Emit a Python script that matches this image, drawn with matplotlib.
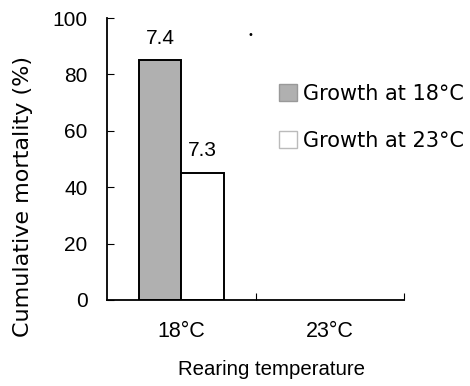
import matplotlib
matplotlib.use("Agg")
import matplotlib.pyplot as plt
from matplotlib.patches import Patch

plt.rcParams['font.family'] = ['DejaVu Sans']

categories = ["18°C", "23°C"]
growth_labels = ["Growth at 18°C", "Growth at 23°C"]
mortality_18 = [85, 0]      # grown at 18C
mortality_23 = [45, 0]      # grown at 23C
bar_notes_18 = ["7.4", None]
bar_notes_23 = ["7.3", None]

num_font = "Liberation Sans"

fig = plt.figure(figsize=(4.7, 3.86), dpi=100)
ax = fig.add_axes([0.228, 0.223, 0.632, 0.730])

w = 0.286
centers = [0.5, 1.5]
for i, c in enumerate(centers):
    if mortality_18[i] > 0:
        ax.bar(c - w / 2, mortality_18[i], width=w, color="#b0b0b0", edgecolor="black", lw=1.4)
        ax.text(c - w / 2, mortality_18[i] + 4.5, bar_notes_18[i], ha="center", va="bottom",
                fontsize=15, family=num_font)
    if mortality_23[i] > 0:
        ax.bar(c + w / 2, mortality_23[i], width=w, color="white", edgecolor="black", lw=1.4)
        ax.text(c + w / 2, mortality_23[i] + 4.5, bar_notes_23[i], ha="center", va="bottom",
                fontsize=15, family=num_font)

ax.set_xlim(0, 2)
ax.set_ylim(0, 100)
ax.set_yticks([0, 20, 40, 60, 80, 100])
ax.tick_params(axis="y", direction="in", length=5, labelsize=15, pad=14)
for t in ax.get_yticklabels():
    t.set_family(num_font)
ax.set_xticks([1, 2])
ax.set_xticklabels([])
ax.tick_params(axis="x", direction="in", length=5)
for c, lab in zip(centers, categories):
    ax.text(c, -7.5, lab, ha="center", va="top", fontsize=15.5, family=num_font)
for s in ("top", "right"):
    ax.spines[s].set_visible(False)
ax.spines["left"].set_linewidth(1.3)
ax.spines["bottom"].set_linewidth(1.3)

fig.text(0.05, 0.49, "Cumulative mortality (%)", rotation=90, ha="center", va="center",
         fontsize=16)
fig.text(0.578, 0.042, "Rearing temperature", ha="center", va="center", fontsize=14.7,
         family=num_font)

handles = [Patch(facecolor="#b0b0b0", edgecolor="#999999"),
           Patch(facecolor="white", edgecolor="#bbbbbb")]
ax.legend(handles, growth_labels, loc="upper left", bbox_to_anchor=(0.55, 0.797),
          frameon=False, fontsize=15, handlelength=0.85, handleheight=0.85,
          handletextpad=0.3, labelspacing=1.3, borderaxespad=0)

fig.text(0.532, 0.91, "•", fontsize=7, ha="center", va="center")

fig.savefig("out.png", dpi=100)
